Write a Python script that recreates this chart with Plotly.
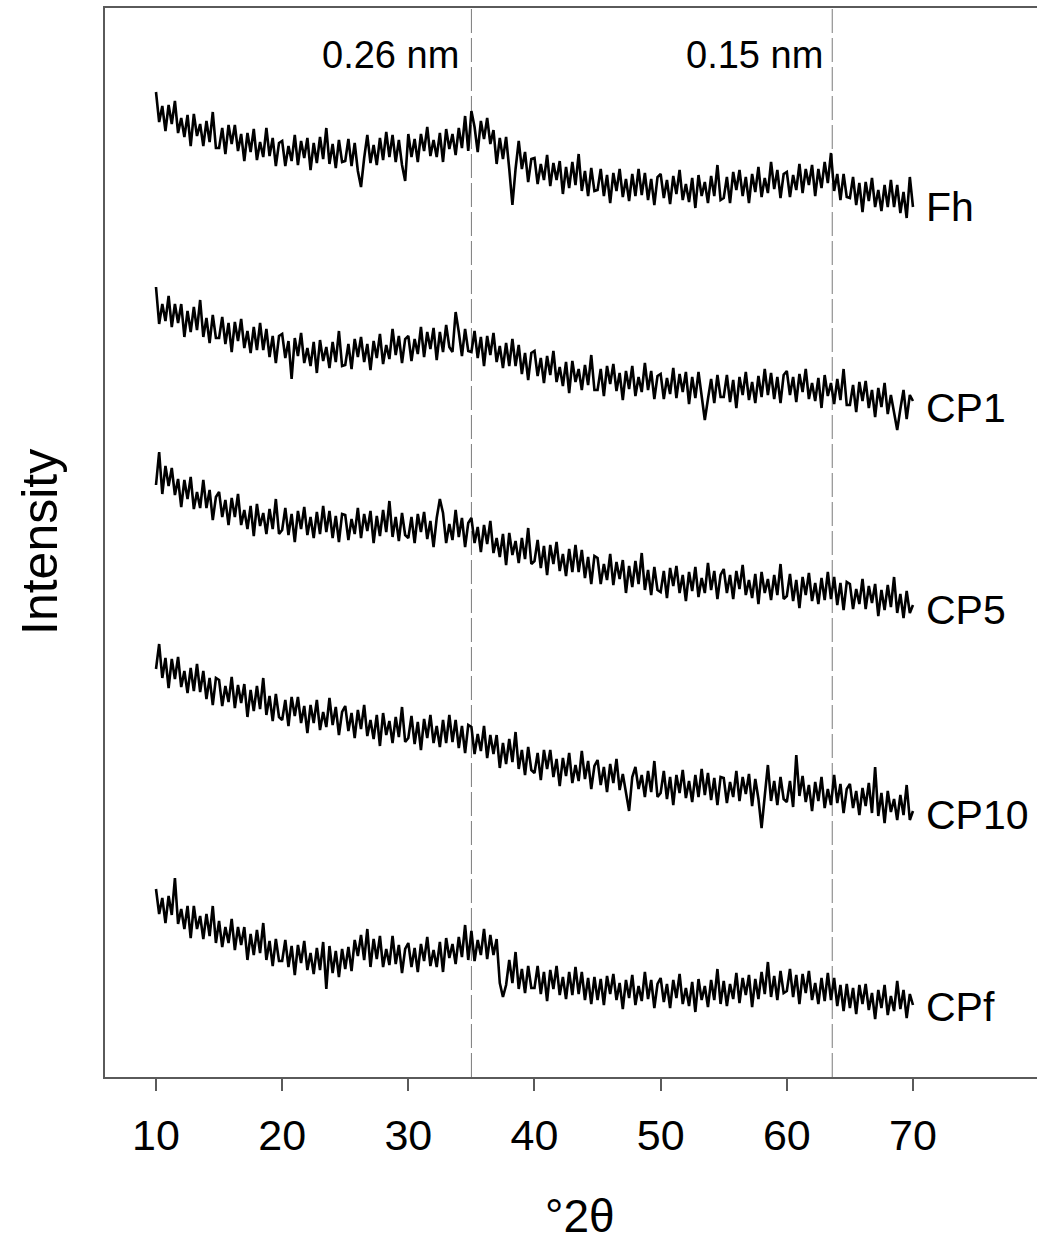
import plotly.graph_objects as go

# ---- data -------------------------------------------------------------
two_theta_start = 10.0
two_theta_step = 0.25

tick_vals = [10, 20, 30, 40, 50, 60, 70]
tick_text = ["10", "20", "30", "40", "50", "60", "70"]

series_names = ["Fh", "CP1", "CP5", "CP10", "CPf"]

# Stacked intensities (arbitrary units, vertically offset as in the figure)
fh = [
    985, 955, 971, 946, 972, 953, 976, 944, 959, 940, 962, 931, 963, 941, 953, 931, 956, 935, 965, 929,
    929, 949, 923, 952, 933, 952, 926, 943, 916, 944, 925, 948, 917, 935, 920, 949, 921, 939, 911, 934,
    936, 911, 931, 916, 942, 912, 936, 919, 939, 907, 934, 914, 940, 918, 949, 913, 933, 909, 937, 915,
    916, 938, 911, 934, 906, 890, 919, 942, 914, 932, 912, 939, 917, 945, 920, 942, 915, 937, 912, 896,
    943, 920, 938, 915, 943, 926, 950, 921, 937, 920, 944, 915, 948, 928, 943, 922, 949, 929, 961, 926,
    966, 950, 925, 956, 938, 959, 933, 947, 913, 939, 918, 940, 908, 872, 908, 936, 908, 925, 895, 918,
    919, 893, 913, 897, 922, 891, 914, 897, 916, 883, 910, 889, 915, 892, 923, 886, 906, 881, 909, 886,
    887, 908, 881, 902, 874, 904, 886, 908, 880, 898, 876, 903, 881, 908, 882, 904, 877, 898, 872, 900,
    903, 879, 897, 873, 901, 883, 907, 877, 893, 875, 899, 869, 902, 881, 895, 874, 901, 881, 912, 877,
    879, 900, 874, 905, 887, 907, 881, 900, 874, 903, 885, 910, 880, 899, 884, 915, 888, 907, 879, 903,
    905, 880, 902, 887, 913, 884, 908, 892, 912, 881, 908, 889, 915, 894, 924, 886, 903, 877, 903, 880,
    879, 900, 872, 894, 865, 895, 876, 899, 870, 887, 866, 892, 870, 897, 870, 892, 864, 885, 859, 900,
    870,
]

cp1 = [
    790, 753, 773, 756, 781, 750, 773, 754, 773, 740, 766, 745, 770, 747, 777, 740, 759, 734, 762, 739,
    739, 760, 733, 754, 725, 755, 736, 758, 729, 746, 724, 750, 727, 754, 727, 748, 720, 741, 714, 741,
    743, 719, 736, 698, 739, 721, 744, 714, 729, 711, 735, 704, 737, 716, 730, 709, 735, 715, 746, 711,
    712, 733, 708, 738, 720, 740, 715, 733, 707, 736, 719, 743, 713, 732, 718, 748, 722, 741, 714, 738,
    741, 716, 738, 723, 750, 720, 745, 728, 749, 717, 745, 725, 752, 730, 725, 765, 745, 721, 748, 726,
    725, 746, 719, 740, 711, 741, 722, 744, 715, 731, 709, 734, 711, 738, 711, 732, 703, 724, 697, 724,
    726, 701, 719, 694, 721, 702, 726, 695, 710, 691, 715, 684, 716, 695, 708, 687, 712, 692, 722, 687,
    687, 708, 681, 711, 693, 713, 686, 704, 677, 706, 688, 711, 681, 700, 685, 714, 687, 706, 678, 701,
    703, 678, 699, 683, 709, 679, 703, 685, 705, 673, 700, 679, 705, 683, 657, 678, 698, 674, 702, 680,
    680, 702, 675, 697, 669, 700, 682, 705, 677, 695, 674, 701, 680, 708, 682, 704, 678, 700, 674, 702,
    706, 682, 700, 675, 703, 685, 708, 678, 694, 676, 699, 669, 702, 681, 694, 673, 698, 677, 708, 672,
    672, 692, 665, 695, 676, 696, 669, 687, 660, 689, 670, 694, 663, 682, 666, 647, 668, 687, 658, 682,
    676,
]

cp5 = [
    592, 625, 583, 611, 591, 609, 582, 598, 570, 597, 578, 600, 568, 585, 569, 597, 569, 587, 557, 580,
    585, 560, 577, 552, 579, 560, 583, 552, 567, 548, 571, 541, 573, 551, 564, 543, 568, 548, 578, 543,
    547, 569, 542, 563, 535, 566, 548, 570, 542, 560, 539, 565, 543, 571, 545, 566, 539, 561, 535, 563,
    562, 537, 558, 543, 569, 539, 563, 546, 566, 534, 561, 541, 567, 545, 576, 540, 560, 536, 564, 542,
    539, 560, 534, 563, 545, 565, 538, 556, 530, 559, 578, 564, 534, 553, 537, 567, 540, 559, 530, 554,
    559, 534, 550, 525, 552, 533, 556, 524, 539, 520, 543, 512, 544, 522, 536, 514, 539, 518, 549, 513,
    516, 537, 509, 531, 502, 532, 513, 535, 506, 523, 501, 528, 505, 532, 505, 527, 499, 520, 493, 521,
    519, 493, 513, 497, 523, 492, 515, 498, 517, 484, 511, 490, 516, 493, 524, 487, 507, 482, 510, 487,
    485, 506, 479, 509, 491, 511, 484, 502, 476, 505, 486, 510, 480, 499, 484, 514, 487, 506, 478, 502,
    508, 484, 502, 478, 506, 488, 512, 482, 497, 479, 503, 473, 505, 484, 498, 477, 502, 482, 513, 478,
    481, 503, 476, 497, 469, 500, 482, 504, 476, 494, 473, 499, 477, 505, 478, 500, 472, 494, 467, 495,
    493, 468, 488, 473, 498, 468, 491, 474, 493, 461, 487, 467, 492, 470, 500, 464, 483, 459, 486, 464,
    472,
]

cp10 = [
    408, 433, 399, 419, 389, 418, 398, 420, 390, 406, 384, 409, 386, 413, 385, 406, 378, 399, 372, 399,
    397, 371, 391, 375, 400, 369, 392, 374, 393, 360, 387, 366, 391, 368, 399, 362, 381, 356, 383, 360,
    357, 377, 351, 380, 361, 380, 354, 371, 344, 372, 354, 377, 347, 365, 350, 379, 352, 370, 342, 365,
    371, 346, 364, 339, 367, 348, 372, 341, 357, 338, 362, 331, 364, 342, 356, 334, 360, 340, 370, 335,
    339, 361, 333, 355, 327, 358, 339, 362, 334, 351, 330, 357, 334, 362, 335, 357, 329, 351, 324, 352,
    350, 323, 343, 326, 351, 319, 342, 323, 342, 309, 334, 313, 338, 315, 345, 308, 327, 302, 330, 307,
    304, 324, 297, 327, 308, 327, 300, 318, 291, 319, 301, 324, 294, 312, 296, 326, 298, 316, 288, 311,
    317, 292, 310, 285, 313, 294, 318, 287, 303, 284, 266, 300, 310, 288, 302, 280, 306, 285, 316, 280,
    284, 306, 278, 300, 272, 302, 284, 307, 279, 296, 275, 302, 280, 308, 282, 304, 277, 299, 272, 300,
    299, 274, 295, 280, 306, 276, 300, 283, 303, 271, 298, 278, 249, 281, 312, 276, 296, 272, 300, 278,
    275, 296, 270, 322, 281, 301, 275, 292, 266, 295, 276, 300, 269, 288, 272, 302, 274, 293, 264, 288,
    293, 269, 286, 262, 289, 271, 294, 264, 310, 261, 284, 254, 286, 265, 278, 257, 282, 262, 292, 257,
    266,
]

cpf = [
    188, 163, 179, 154, 181, 162, 199, 153, 168, 148, 171, 139, 171, 148, 161, 138, 163, 141, 171, 134,
    156, 130, 150, 134, 158, 127, 150, 132, 150, 117, 143, 122, 147, 124, 154, 117, 136, 111, 138, 116,
    116, 137, 110, 131, 102, 132, 114, 136, 107, 124, 103, 129, 107, 135, 88, 131, 104, 126, 100, 128,
    108, 130, 106, 137, 121, 142, 117, 148, 110, 138, 118, 141, 110, 128, 112, 141, 113, 132, 104, 128,
    134, 110, 129, 105, 133, 116, 140, 111, 127, 110, 135, 105, 139, 119, 133, 113, 140, 120, 152, 117,
    146, 116, 137, 122, 148, 118, 142, 122, 138, 94, 80, 92, 117, 94, 125, 88, 108, 84, 111, 89,
    89, 111, 83, 105, 76, 107, 88, 111, 82, 100, 78, 105, 82, 110, 83, 105, 77, 99, 73, 100,
    77, 98, 72, 101, 83, 103, 77, 94, 68, 97, 79, 102, 72, 91, 76, 105, 78, 97, 69, 93,
    99, 75, 93, 69, 97, 79, 103, 73, 89, 71, 95, 65, 98, 77, 91, 70, 97, 77, 108, 73,
    96, 71, 93, 78, 104, 74, 99, 82, 102, 70, 98, 78, 105, 83, 115, 80, 101, 77, 106, 84,
    86, 108, 80, 102, 73, 103, 84, 106, 77, 94, 73, 99, 76, 104, 77, 99, 71, 92, 66, 93,
    69, 89, 63, 92, 73, 93, 67, 84, 58, 87, 69, 92, 62, 81, 66, 96, 68, 87, 59, 83,
    72,
]

# d-spacing reference lines (°2θ) and their labels
ref_positions = [35.0, 63.6]
ref_labels = ["0.26 nm", "0.15 nm"]
ref_label_x = [28.55, 57.45]

# label heights for each pattern (same units as intensities)
series_label_y = [870, 669, 467, 262, 70]

# ---- figure -----------------------------------------------------------
all_series = [fh, cp1, cp5, cp10, cpf]
n_pts = len(fh)
two_theta = [two_theta_start + i * two_theta_step for i in range(n_pts)]

FONT = "Liberation Sans, Arial, sans-serif"
AXIS_COLOR = "#5a5a5a"

fig = go.Figure()
for name, vals in zip(series_names, all_series):
    fig.add_trace(go.Scatter(
        x=two_theta, y=vals, mode="lines", name=name,
        line=dict(color="black", width=2.6), showlegend=False,
    ))

for xpos in ref_positions:
    fig.add_shape(type="line", xref="x", yref="paper", x0=xpos, x1=xpos, y0=0, y1=1,
                  line=dict(color="#7a7a7a", width=1, dash="24px,5px"), layer="below")

for txt, xl in zip(ref_labels, ref_label_x):
    fig.add_annotation(x=xl, y=1022, xref="x", yref="y", text=txt, showarrow=False,
                       font=dict(family=FONT, size=38, color="black"),
                       xanchor="center", yanchor="middle")

for name, yl in zip(series_names, series_label_y):
    fig.add_annotation(x=70.85, y=yl, xref="x", yref="y", text=name, showarrow=False,
                       font=dict(family=FONT, size=41, color="black"),
                       xanchor="left", yanchor="middle")

# axis titles
fig.add_annotation(x=(580 - 105) / 932, y=-(1216 - 1077) / 1069, xref="paper", yref="paper",
                   text="°2θ", showarrow=False, xanchor="center", yanchor="middle",
                   font=dict(family=FONT, size=46, color="black"))
fig.add_annotation(x=(40 - 105) / 932, y=(1077 - 542) / 1069, xref="paper", yref="paper",
                   text="Intensity", showarrow=False, xanchor="center", yanchor="middle",
                   textangle=-90, font=dict(family=FONT, size=50, color="black"))

fig.update_layout(
    width=1037, height=1246,
    margin=dict(l=105, r=0, t=8, b=169, pad=0),
    paper_bgcolor="white", plot_bgcolor="white",
    font=dict(family=FONT, color="black"),
)

fig.update_xaxes(
    range=[5.958, 79.83], showgrid=False, zeroline=False, automargin=False,
    showline=True, linecolor=AXIS_COLOR, linewidth=1.5, mirror=True,
    ticks="outside", ticklen=12, tickwidth=1.5, tickcolor=AXIS_COLOR,
    tickvals=tick_vals, ticktext=tick_text,
    tickfont=dict(family=FONT, size=43, color="black"),
    ticklabelstandoff=8,
)
fig.update_yaxes(
    range=[0, 1069], showgrid=False, zeroline=False, automargin=False,
    showline=True, linecolor=AXIS_COLOR, linewidth=1.5,
    showticklabels=False, ticks="",
)

# remove the page's default body margin so the figure sits at the window origin
fig.write_html("out.html", config={"displayModeBar": False},
               post_script="document.body.style.margin='0';")
